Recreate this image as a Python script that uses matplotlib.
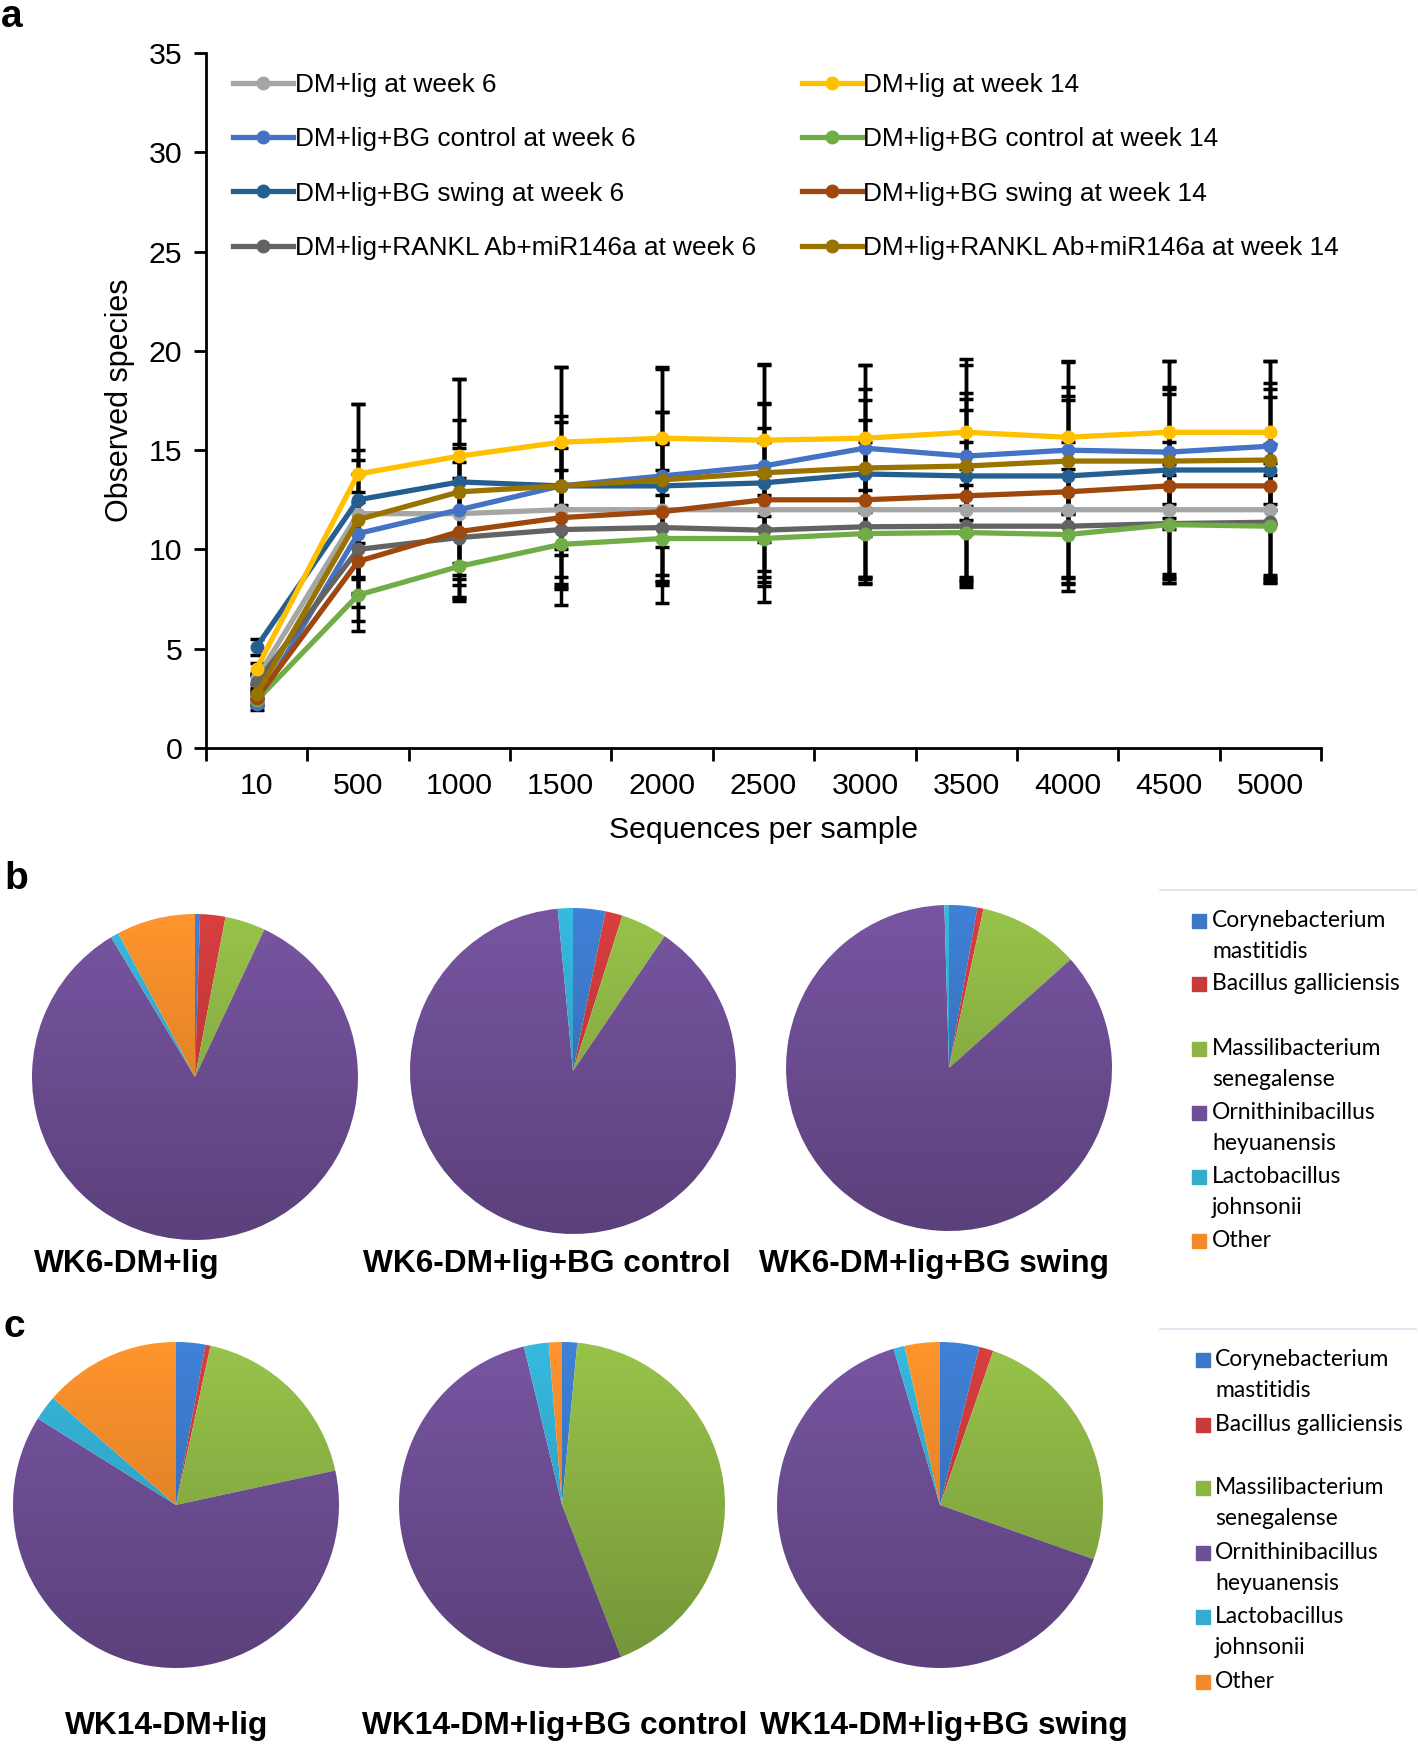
import numpy as np
import matplotlib
matplotlib.use("Agg")
import matplotlib.pyplot as plt
from matplotlib.colors import to_rgb
from matplotlib.patches import Rectangle

W, H = 1418, 1744

# ---- panel a: rarefaction curves ----
depths = ["10", "500", "1000", "1500", "2000", "2500", "3000", "3500", "4000", "4500", "5000"]

series_names = [
    "DM+lig at week 6",
    "DM+lig+BG control at week 6",
    "DM+lig+BG swing at week 6",
    "DM+lig+RANKL Ab+miR146a at week 6",
    "DM+lig at week 14",
    "DM+lig+BG control at week 14",
    "DM+lig+BG swing at week 14",
    "DM+lig+RANKL Ab+miR146a at week 14",
]
series_colors = ["#a5a5a5", "#4472c4", "#255e91", "#636363",
                 "#ffc000", "#70ad47", "#9e480e", "#997300"]

wk6_lig = [3.5, 11.8, 11.8, 12.0, 12.0, 12.0, 12.0, 12.0, 12.0, 12.0, 12.0]
wk6_ctrl = [2.2, 10.8, 12.0, 13.2, 13.7, 14.2, 15.1, 14.7, 15.0, 14.9, 15.2]
wk6_swing = [5.1, 12.5, 13.4, 13.2, 13.2, 13.35, 13.8, 13.7, 13.7, 14.0, 14.0]
wk6_rankl = [3.3, 10.0, 10.6, 11.0, 11.1, 10.97, 11.14, 11.17, 11.17, 11.3, 11.37]
wk14_lig = [4.0, 13.8, 14.7, 15.4, 15.6, 15.5, 15.6, 15.9, 15.65, 15.9, 15.9]
wk14_ctrl = [2.4, 7.7, 9.15, 10.25, 10.55, 10.55, 10.8, 10.85, 10.75, 11.25, 11.17]
wk14_swing = [2.5, 9.4, 10.9, 11.6, 11.9, 12.5, 12.5, 12.7, 12.9, 13.2, 13.2]
wk14_rankl = [2.7, 11.5, 12.9, 13.2, 13.5, 13.86, 14.1, 14.2, 14.45, 14.45, 14.5]

err_wk6_lig = [0.3, 3.2, 3.3, 3.4, 3.3, 3.4, 3.4, 3.4, 3.4, 3.4, 3.3]
err_wk6_ctrl = [0.3, 3.0, 3.3, 3.2, 3.2, 3.1, 3.0, 3.2, 3.2, 3.3, 3.2]
err_wk6_swing = [0.4, 4.8, 5.2, 6.0, 5.9, 6.0, 5.5, 5.6, 5.8, 5.5, 5.5]
err_wk6_rankl = [0.4, 2.9, 3.0, 3.0, 2.9, 2.8, 2.9, 2.9, 2.9, 3.0, 3.0]
err_wk14_lig = [0.3, 3.5, 3.9, 3.8, 3.6, 3.8, 3.7, 3.7, 3.8, 3.6, 3.6]
err_wk14_ctrl = [0.3, 1.8, 1.6, 2.0, 2.2, 2.2, 2.2, 2.4, 2.2, 2.5, 2.6]
err_wk14_swing = [0.3, 3.0, 3.5, 3.5, 3.5, 3.6, 4.0, 4.3, 4.6, 4.9, 4.9]
err_wk14_rankl = [0.3, 3.0, 3.6, 3.5, 3.4, 3.5, 3.4, 3.4, 3.3, 3.4, 3.2]

series_values = [wk6_lig, wk6_ctrl, wk6_swing, wk6_rankl,
                 wk14_lig, wk14_ctrl, wk14_swing, wk14_rankl]
series_errors = [err_wk6_lig, err_wk6_ctrl, err_wk6_swing, err_wk6_rankl,
                 err_wk14_lig, err_wk14_ctrl, err_wk14_swing, err_wk14_rankl]

# ---- panels b, c: species composition (%) ----
species = ["Corynebacterium\nmastitidis", "Bacillus galliciensis",
           "Massilibacterium\nsenegalense", "Ornithinibacillus\nheyuanensis",
           "Lactobacillus\njohnsonii", "Other"]
species_colors = ["#3b78c8", "#c93a3a", "#8db545", "#6f4f96", "#33acd0", "#f28a2a"]

wk6_groups = ["WK6-DM+lig", "WK6-DM+lig+BG control", "WK6-DM+lig+BG swing"]
wk6_lig_pie = [0.5, 2.5, 4.0, 84.4, 0.8, 7.8]
wk6_ctrl_pie = [3.2, 1.7, 4.6, 89.0, 1.5, 0.0]
wk6_swing_pie = [2.8, 0.6, 10.0, 86.15, 0.45, 0.0]

wk14_groups = ["WK14-DM+lig", "WK14-DM+lig+BG control", "WK14-DM+lig+BG swing"]
wk14_lig_pie = [2.9, 0.5, 18.2, 62.3, 2.5, 13.6]
wk14_ctrl_pie = [1.5, 0.0, 42.6, 52.15, 2.45, 1.3]
wk14_swing_pie = [3.9, 1.4, 25.1, 65.0, 1.1, 3.5]

plt.rcParams["font.family"] = ["Liberation Sans", "DejaVu Sans"]
fig = plt.figure(figsize=(W / 100, H / 100), dpi=100)


def px_axes(left, top, right, bottom):
    return fig.add_axes([left / W, 1 - bottom / H, (right - left) / W, (bottom - top) / H])


def fx(x):
    return x / W


def fy(y):
    return 1 - y / H


# panel a
ax = px_axes(206, 53, 1321, 748)
x = np.arange(len(depths))
for vals, errs in zip(series_values, series_errors):
    ax.errorbar(x, vals, yerr=errs, fmt="none", ecolor="black", elinewidth=2.5,
                capsize=5, capthick=2.5, zorder=2)
for name, vals, col in zip(series_names, series_values, series_colors):
    ax.plot(x, vals, color=col, lw=3.8, marker="o", ms=9, label=name, zorder=3)

ax.set_xlim(-0.5, len(depths) - 0.5)
ax.set_ylim(0, 35)
ax.set_yticks(range(0, 36, 5))
ax.set_xticks(x)
ax.set_xticklabels(depths)
ax.set_xticks(np.arange(-0.5, len(depths)), minor=True)
ax.tick_params(axis="x", which="major", length=0, pad=17, labelsize=21.8)
ax.tick_params(axis="x", which="minor", length=9, width=2, direction="out")
ax.tick_params(axis="y", length=9, width=2, direction="out", pad=8, labelsize=21.8)
for s in ["top", "right"]:
    ax.spines[s].set_visible(False)
for s in ["left", "bottom"]:
    ax.spines[s].set_linewidth(2)
ax.set_xlabel("Sequences per sample", fontsize=21.8, labelpad=12)
ax.set_ylabel("Observed species", fontsize=22, labelpad=10)
ax.legend(ncol=2, loc="upper left", bbox_to_anchor=(0.003, 1.005), frameon=False,
          fontsize=18.9, handlelength=2.3, handletextpad=0.05, columnspacing=1.75,
          labelspacing=1.15)


def draw_pie(cx, cy, r, sizes):
    pax = px_axes(cx - r, cy - r, cx + r, cy + r)
    wedges, _ = pax.pie(sizes, colors=species_colors, startangle=90,
                        counterclock=False, radius=1)
    grad = np.linspace(0, 1, 200)[:, None]
    for w, c in zip(wedges, species_colors):
        base = np.array(to_rgb(c))
        top = np.clip(base * 1.08, 0, 1)
        bottom = base * 0.82
        img = top * (1 - grad[..., None]) + bottom * grad[..., None]
        im = pax.imshow(img, extent=(-1, 1, -1, 1), origin="upper", zorder=1,
                        aspect="auto")
        im.set_clip_path(w)
        w.set_facecolor("none")
        w.set_edgecolor("none")
    pax.set_xlim(-1, 1)
    pax.set_ylim(-1, 1)
    pax.set_aspect("equal")
    pax.axis("off")


def draw_species_legend(sq_x, text_x, row_y, sep_y):
    fig.add_artist(plt.Line2D([fx(1160), fx(1416)], [fy(sep_y), fy(sep_y)],
                              color="#d7e4f2", lw=1.2))
    for name, col, y in zip(species, species_colors, row_y):
        fig.add_artist(Rectangle((fx(sq_x), fy(y + 7)), 14 / W, 14 / H,
                                 color=col, transform=fig.transFigure))
        fig.text(fx(text_x), fy(y - 11), name, ha="left", va="top",
                 fontsize=16.5, family=["Lato", "DejaVu Sans"], linespacing=1.6)


def group_label(lx, ly, label):
    fig.text(fx(lx), fy(ly), label, ha="center", va="center",
             fontsize=22.8, fontweight="bold")


# panel b
for (cx, cy), sizes in zip([(195, 1077), (573, 1071), (949, 1068)],
                           [wk6_lig_pie, wk6_ctrl_pie, wk6_swing_pie]):
    draw_pie(cx, cy, 163, sizes)
for lx, label in zip([127, 547, 934], wk6_groups):
    group_label(lx, 1264, label)
draw_species_legend(1192, 1212, [921, 984, 1049, 1113, 1177, 1241], 890)

# panel c
for (cx, cy), sizes in zip([(176, 1505), (562, 1505), (940, 1505)],
                           [wk14_lig_pie, wk14_ctrl_pie, wk14_swing_pie]):
    draw_pie(cx, cy, 163, sizes)
for lx, label in zip([167, 555, 944], wk14_groups):
    group_label(lx, 1726, label)
draw_species_legend(1196, 1215, [1360, 1425, 1488, 1553, 1617, 1682], 1329)

for letter, (lx, ly) in zip("abc", [(12, 17), (16, 879), (14, 1327)]):
    fig.text(fx(lx), fy(ly), letter, ha="center", va="center", fontsize=28,
             fontweight="bold")

fig.savefig("out.png", dpi=100)
